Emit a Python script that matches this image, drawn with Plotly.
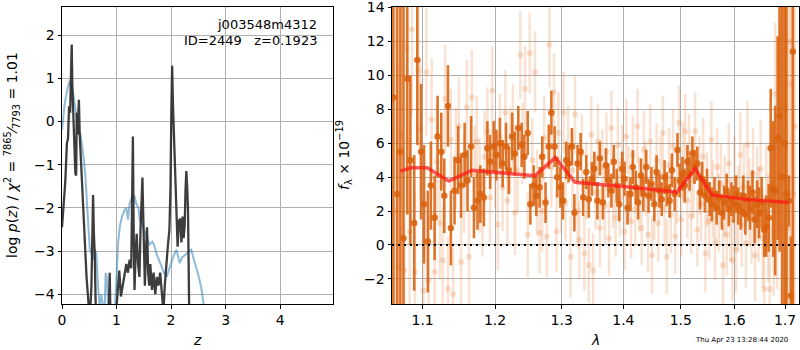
import plotly.graph_objects as go

# ---------------- left panel: log p(z) ----------------
z_chi = [0.00,0.03,0.06,0.09,0.11,0.13,0.15,0.165,0.178,0.19,0.20,0.215,0.23,0.245,0.26,0.27,0.285,0.295,0.31,0.325,
         0.34,0.355,0.37,0.39,0.42,0.45,0.48,0.51,0.54,0.57,0.585,0.60,0.62,0.645,0.68,0.74,0.80,0.86,0.875,0.89,
         0.94,1.0,1.05,1.08,1.11,1.15,1.18,1.21,1.24,1.27,1.285,1.30,1.315,1.33,1.35,1.37,1.395,1.42,1.44,1.46,
         1.475,1.49,1.52,1.54,1.56,1.58,1.60,1.62,1.65,1.68,1.71,1.74,1.77,1.80,1.83,1.86,1.885,1.91,1.94,1.97,
         1.99,2.005,2.02,2.035,2.05,2.065,2.08,2.10,2.12,2.145,2.17,2.19,2.21,2.23,2.25,2.265,2.28,2.295,2.31,2.32,
         2.33,2.40,2.8,3.5,4.2,4.97]
logp_chi = [-2.45,-2.0,-1.4,-0.5,-0.4,0.35,0.2,1.1,1.78,0.8,0.4,-0.3,-0.6,-1.2,-1.25,0.2,-0.3,0.3,0.5,-0.3,
            -0.7,-1.0,-1.6,-2.2,-2.9,-3.6,-4.1,-4.6,-3.8,-1.7,-2.6,-3.05,-4.4,-5.0,-5.5,-6.0,-5.0,-4.3,-3.5,-4.6,
            -4.8,-4.3,-3.45,-4.05,-3.8,-3.5,-3.3,-3.5,-3.2,-3.4,-2.2,-0.35,-2.6,-3.9,-3.06,-2.6,-3.3,-3.6,-2.5,-1.9,
            -1.3,-2.2,-3.8,-3.0,-2.45,-3.5,-3.8,-3.3,-3.9,-3.5,-4.0,-3.6,-3.8,-3.5,-4.0,-4.4,-3.8,-3.3,-2.9,-2.5,
            -1.5,0.2,1.29,0.4,-0.2,-1.0,-1.7,-2.4,-2.9,-2.3,-2.25,-2.8,-2.2,-2.7,-2.4,-1.6,-1.15,-1.5,-2.0,-3.0,
            -8.0,-12.0,-15.0,-18.0,-20.0,-22.0]

z_prior = [0.0,0.05,0.10,0.14,0.17,0.20,0.23,0.26,0.29,0.31,0.34,0.37,0.40,0.43,0.45,0.48,0.51,0.54,0.57,0.60,
           0.63,0.66,0.69,0.72,0.75,0.78,0.80,0.82,0.85,0.88,0.92,0.96,1.0,1.03,1.06,1.10,1.15,1.18,1.21,1.24,
           1.27,1.30,1.33,1.36,1.40,1.43,1.46,1.50,1.55,1.60,1.66,1.70,1.73,1.78,1.82,1.87,1.92,1.97,2.01,2.05,
           2.10,2.13,2.16,2.20,2.25,2.30,2.37,2.42,2.46,2.51,2.55,2.59,2.63,2.8,3.5,4.97]
logp_prior = [-0.2,0.42,0.75,0.94,0.8,0.68,0.45,0.13,-0.15,-0.26,-0.3,-0.55,-0.87,-1.3,-1.73,-2.4,-2.97,-3.05,-3.2,-2.97,
              -3.05,-3.8,-4.3,-4.0,-4.25,-4.5,-3.5,-3.6,-4.4,-4.6,-4.4,-4.6,-3.6,-2.8,-2.43,-2.2,-2.04,-2.0,-2.27,-1.9,
              -1.80,-1.75,-1.73,-1.9,-2.0,-2.3,-2.3,-2.5,-2.66,-2.85,-2.78,-2.9,-3.05,-3.2,-3.36,-3.5,-3.59,-3.4,-3.2,-3.1,
              -2.97,-3.1,-3.28,-3.15,-3.1,-3.05,-2.97,-3.2,-3.36,-3.6,-3.82,-4.2,-4.6,-6.0,-12.0,-20.0]

# ---------------- right panel: spectrum ----------------
lam_b = [1.064,1.068,1.072,1.076,1.079,1.083,1.086,1.090,1.094,1.097,
         1.101,1.105,1.108,1.112,1.116,1.119,1.123,1.127,1.130,1.134,
         1.138,1.141,1.145,1.149,1.152,1.156,1.160,1.163,1.167,1.171,
         1.174,1.178,1.182,1.185,1.189,1.193,1.196,1.200,1.204,1.207,
         1.211,1.215,1.218,1.222,1.226,1.229,1.233,1.237,1.240,1.244,
         1.248,1.251,1.255,1.259,1.262,1.266,1.270,1.273,1.277,1.281,
         1.284,1.288,1.292,1.295,1.299,1.303,1.306,1.310,1.314,1.317,
         1.321,1.325,1.328,1.332,1.336,1.339,1.343,1.347,1.350,1.354,
         1.358,1.361,1.365,1.369,1.372,1.376,1.380,1.383,1.387,1.391,
         1.394,1.398,1.402,1.405,1.409,1.413,1.416,1.420,1.424,1.427,
         1.431,1.435,1.438,1.442,1.446,1.449,1.453,1.457,1.460,1.464,
         1.468,1.471,1.475,1.479,1.482,1.486,1.490,1.493,1.497,1.501,
         1.504,1.508,1.512,1.515,1.519,1.523,1.526,1.530,1.534,1.537,
         1.541,1.545,1.548,1.552,1.556,1.559,1.563,1.567,1.570,1.574,
         1.578,1.581,1.585,1.589,1.592,1.596,1.600,1.603,1.607,1.611,
         1.614,1.618,1.622,1.625,1.629,1.633,1.636,1.640,1.644,1.647,
         1.651,1.655,1.658,1.662,1.666,1.669,1.673,1.677,1.680,1.684,
         1.688,1.691,1.695,1.699,1.702,1.706,1.710,1.713,1.717,1.720]
flux_b = [2.0,-1.3,6.5,-1.5,11.6,0.8,12.7,-1.6,10.3,6.8,
          -2.7,10.2,-2.1,7.4,-1.6,4.9,1.3,-0.9,8.6,-2.6,
          6.2,-2.9,5.1,7.0,-1.0,3.6,8.1,-0.7,8.7,4.2,
          6.1,3.5,1.9,5.2,6.7,2.8,9.1,4.8,1.2,6.4,
          3.4,7.8,2.6,5.6,6.9,1.9,4.4,11.2,6.0,9.2,
          0.6,11.3,5.0,10.2,3.1,0.7,2.0,6.3,0.5,11.8,
          4.6,9.0,0.8,6.6,3.0,7.8,2.5,5.9,-0.7,4.4,
          7.7,2.0,0.3,5.4,-0.5,3.8,-1.2,6.5,-1.5,3.1,
          6.1,1.0,4.6,2.3,5.5,0.4,6.9,3.2,1.6,5.9,
          2.7,4.9,0.8,6.4,3.6,1.4,5.3,2.1,7.0,3.0,
          1.0,5.6,3.9,0.6,6.1,-0.6,2.5,5.0,1.3,4.2,
          6.6,2.2,-0.7,4.7,1.8,5.8,0.5,3.5,7.2,1.5,
          4.9,6.7,2.6,5.4,1.7,3.8,6.7,0.9,4.1,2.4,
          5.2,-0.5,3.3,1.4,6.2,2.7,0.2,4.6,1.9,3.6,
          -1.2,2.9,0.6,4.8,1.5,-0.9,3.9,-0.3,2.2,5.3,
          1.2,3.4,0.1,5.9,2.5,1.6,4.2,-0.6,3.0,1.8,
          4.5,0.4,-2.6,2.8,1.0,-2.6,3.6,0.8,8.9,2.2,
          10.9,6.3,11.5,8.1,4.0,1.0,12.0,9.5,3.0,7.0]
err_b = [30,12,8,7,6,5.5,5,4.8,4.5,4.2,
         4.0,3.8,3.7,3.6,3.5,3.4,3.3,3.2,3.2,3.1,
         3.0,3.0,3.0,2.9,2.9,2.9,2.8,2.8,2.8,2.8,
         2.7,2.8,2.6,2.7,2.6,2.7,2.6,2.6,2.7,2.5,
         2.6,2.5,2.6,2.5,2.6,2.5,2.5,2.6,2.4,2.5,
         2.5,2.4,2.5,2.4,2.5,2.4,2.4,2.5,2.4,2.5,
         2.4,2.3,2.4,2.4,2.3,2.4,2.3,2.3,2.4,2.3,
         2.3,2.2,2.3,2.3,2.2,2.3,2.2,2.3,2.2,2.2,
         2.2,2.3,2.2,2.2,2.3,2.2,2.2,2.2,2.3,2.2,
         2.2,2.2,2.3,2.2,2.2,2.2,2.3,2.2,2.2,2.2,
         2.2,2.3,2.2,2.2,2.2,2.3,2.2,2.2,2.3,2.2,
         2.2,2.3,2.2,2.2,2.3,2.2,2.2,2.3,2.2,2.2,
         2.3,2.2,2.2,2.3,2.2,2.2,2.3,2.2,2.3,2.2,
         2.3,2.3,2.2,2.3,2.3,2.3,2.3,2.3,2.3,2.4,
         2.4,2.4,2.4,2.4,2.5,2.4,2.5,2.5,2.5,2.5,
         2.5,2.6,2.6,2.6,2.6,2.7,2.7,2.7,2.8,2.8,
         2.9,2.9,3.0,3.1,3.2,3.3,3.5,3.8,4.2,4.8,
         5.5,6.5,8,10,12,15,20,25,30,30]

lam_a = [1.062,1.067,1.071,1.075,1.080,1.084,1.089,1.093,1.098,1.102,
         1.107,1.111,1.116,1.120,1.125,1.129,1.134,1.138,1.143,1.148,
         1.152,1.157,1.161,1.166,1.170,1.175,1.179,1.184,1.189,1.193,
         1.198,1.202,1.207,1.211,1.216,1.220,1.225,1.229,1.234,1.239,
         1.243,1.248,1.252,1.257,1.261,1.266,1.270,1.275,1.280,1.284,
         1.289,1.293,1.298,1.302,1.307,1.311,1.316,1.320,1.325,1.330,
         1.334,1.339,1.343,1.348,1.352,1.357,1.361,1.366,1.371,1.375,
         1.380,1.384,1.389,1.393,1.398,1.402,1.407,1.412,1.416,1.421,
         1.425,1.430,1.434,1.439,1.443,1.448,1.453,1.457,1.462,1.466,
         1.471,1.475,1.480,1.484,1.489,1.494,1.498,1.503,1.507,1.512,
         1.516,1.521,1.525,1.530,1.535,1.539,1.544,1.548,1.553,1.557,
         1.562,1.566,1.571,1.576,1.580,1.585,1.589,1.594,1.598,1.603,
         1.607,1.612,1.617,1.621,1.626,1.630,1.635,1.639,1.644,1.648,
         1.653,1.658,1.662,1.667,1.671,1.676,1.680,1.685,1.689,1.694,
         1.699,1.703,1.708,1.712,1.716]
flux_a = [8.7,3.0,5.5,0.4,9.8,5.0,1.3,10.9,5.5,2.4,
          0.2,3.5,1.6,6.4,5.5,2.9,8.2,1.0,3.2,5.0,
          3.5,5.3,3.8,5.8,2.2,2.6,3.0,2.8,5.7,4.9,
          5.8,5.3,6.0,4.8,5.8,4.4,6.4,5.4,6.9,5.9,
          5.2,6.6,2.4,3.5,2.9,3.4,5.2,2.5,5.8,7.8,
          5.8,4.0,3.4,2.6,5.0,4.8,5.8,1.9,4.8,5.5,
          2.8,4.3,2.7,3.9,4.5,2.6,5.1,2.5,4.7,3.8,
          3.2,4.9,3.5,2.4,4.5,3.9,2.2,3.0,4.6,3.4,
          2.5,4.1,3.0,4.6,2.9,3.6,2.4,4.3,3.2,2.7,
          4.0,3.3,2.6,4.4,3.0,5.6,3.8,4.2,3.5,4.9,
          4.2,5.4,4.6,4.8,3.1,3.9,2.9,3.5,2.7,2.4,
          3.0,2.2,2.8,1.9,2.5,3.2,2.1,2.7,2.4,3.0,
          2.3,2.0,2.9,1.8,2.6,2.2,3.1,1.5,2.4,1.9,
          2.5,0.9,1.1,1.6,5.7,3.3,3.2,6.3,7.6,4.0,
          6.0,3.0,2.6,-3.0,11.4]
err_a = [30,30,30,20,8,5,4,5,4,3.5,
         3.0,2.6,2.5,2.4,2.3,2.2,2.4,2.2,2.0,2.0,
         1.9,1.9,1.8,1.8,1.8,1.7,1.7,1.7,1.6,1.6,
         1.5,1.5,1.5,1.4,1.4,1.4,1.4,1.3,1.3,1.3,
         1.3,1.3,1.2,1.2,1.2,1.2,1.2,1.2,1.3,1.3,
         1.2,1.2,1.2,1.1,1.1,1.1,1.1,1.1,1.1,1.1,
         1.1,1.0,1.1,1.0,1.0,1.1,1.0,1.0,1.0,1.0,
         1.0,1.0,1.0,1.0,1.0,1.0,1.0,1.0,1.0,1.0,
         1.0,1.0,1.0,1.0,1.0,1.0,1.0,1.0,1.0,1.0,
         1.0,1.0,1.0,1.0,1.0,1.0,1.0,1.0,1.0,1.0,
         1.0,1.0,1.0,1.0,1.0,1.0,1.0,1.0,1.0,1.0,
         1.0,1.0,1.0,1.0,1.0,1.0,1.0,1.0,1.1,1.1,
         1.1,1.1,1.2,1.2,1.2,1.3,1.3,1.4,1.4,1.5,
         1.5,1.6,1.8,2.0,3.5,4.0,5.0,6.0,8.0,20,
         30,30,1.5,3.5,30]

lam_model = [1.071,1.085,1.106,1.135,1.167,1.200,1.259,1.290,1.321,1.400,1.493,1.526,1.557,1.620,1.707]
flux_model = [4.35,4.55,4.55,3.77,4.40,4.30,4.08,5.15,3.70,3.45,3.12,4.50,2.95,2.70,2.50]

z_ticks = [0, 1, 2, 3, 4]
logp_ticks = [-4, -3, -2, -1, 0, 1, 2]
lam_ticks = [1.1, 1.2, 1.3, 1.4, 1.5, 1.6, 1.7]
flux_ticks = [-2, 0, 2, 4, 6, 8, 10, 12, 14]

FONT = "DejaVu Sans"
ORANGE_DARK = "rgba(217,98,14,0.88)"
ORANGE_LIGHT = "rgba(224,110,30,0.2)"

fig = go.Figure()

fig.add_trace(go.Scatter(x=z_prior, y=logp_prior, mode="lines",
                         line=dict(color="rgba(31,119,180,0.5)", width=2),
                         xaxis="x", yaxis="y", showlegend=False))
fig.add_trace(go.Scatter(x=z_chi, y=logp_chi, mode="lines",
                         line=dict(color="rgba(40,40,40,0.9)", width=2.3),
                         xaxis="x", yaxis="y", showlegend=False))

fig.add_trace(go.Scatter(x=lam_b, y=flux_b, mode="markers",
                         marker=dict(size=6, color=ORANGE_LIGHT, line=dict(width=0)),
                         error_y=dict(type="data", array=err_b, color=ORANGE_LIGHT, thickness=2.5, width=0),
                         xaxis="x2", yaxis="y2", showlegend=False))
fig.add_trace(go.Scatter(x=lam_a, y=flux_a, mode="markers",
                         marker=dict(size=6.5, color=ORANGE_DARK, line=dict(width=0)),
                         error_y=dict(type="data", array=err_a, color=ORANGE_DARK, thickness=2.6, width=0),
                         xaxis="x2", yaxis="y2", showlegend=False))
fig.add_trace(go.Scatter(x=lam_model, y=flux_model, mode="lines",
                         line=dict(color="rgba(255,20,20,0.7)", width=3.5),
                         xaxis="x2", yaxis="y2", showlegend=False))

axis_common = dict(showline=True, linecolor="black", linewidth=1, mirror=True,
                   ticks="outside", ticklen=3.5, tickcolor="black", tickwidth=1,
                   showgrid=True, gridcolor="#b0b0b0", gridwidth=1, zeroline=False,
                   ticklabeloverflow="allow",
                   tickfont=dict(family=FONT, size=14, color="black"), automargin=False)

fig.update_layout(
    width=800, height=350,
    margin=dict(l=0, r=0, t=0, b=0),
    paper_bgcolor="white", plot_bgcolor="white",
    xaxis=dict(domain=[62/800, 333/800], range=[0, 4.97], tickvals=z_ticks, anchor="y", **axis_common),
    yaxis=dict(domain=[46/350, 343/350], range=[-4.225, 2.65], tickvals=logp_ticks, anchor="x", **axis_common),
    xaxis2=dict(domain=[392/800, 799/800], type="log", range=[0.02543, 0.23775],
                tickvals=lam_ticks, ticktext=[str(v) for v in lam_ticks], anchor="y2", **axis_common),
    yaxis2=dict(domain=[46/350, 343/350], range=[-3.48, 14.03], tickvals=flux_ticks, anchor="x2", **axis_common),
    shapes=[dict(type="line", xref="x2 domain", x0=0, x1=1, yref="y2", y0=0, y1=0,
                 line=dict(color="black", width=2, dash="2px,4px"), layer="above")],
)

ann = [
    dict(text="j003548m4312", x=319/800, y=(350-25)/350, xanchor="right", yanchor="middle", size=13),
    dict(text="ID=2449   z=0.1923", x=319/800, y=(350-40)/350, xanchor="right", yanchor="middle", size=13),
    dict(text="<i>z</i>", x=197/800, y=(350-340)/350, xanchor="center", yanchor="middle", size=14),
    dict(text="<i>λ</i>", x=595/800, y=(350-340)/350, xanchor="center", yanchor="middle", size=14),
    dict(text="Thu Apr 23 13:28:44 2020", x=741/800, y=(350-340)/350, xanchor="center", yanchor="middle", size=7),
]
for a in ann:
    fig.add_annotation(text=a["text"], x=a["x"], y=a["y"], xref="paper", yref="paper",
                       xanchor=a["xanchor"], yanchor=a["yanchor"], showarrow=False,
                       font=dict(family=FONT, size=a["size"], color="black"))

fig.add_annotation(text="log <i>p</i>(<i>z</i>) / <i>χ</i><sup>2</sup> = <sup>7865</sup>⁄<sub>7793</sub> = 1.01",
                   x=12/800, y=(350-155)/350, xref="paper", yref="paper", textangle=-90,
                   xanchor="center", yanchor="middle", showarrow=False,
                   font=dict(family=FONT, size=14, color="black"))
fig.add_annotation(text="<i>f</i><sub>λ</sub> × 10<sup>−19</sup>",
                   x=344/800, y=(350-155)/350, xref="paper", yref="paper", textangle=-90,
                   xanchor="center", yanchor="middle", showarrow=False,
                   font=dict(family=FONT, size=14, color="black"))

fig.write_html("out.html", config={"displayModeBar": False},
               post_script="document.body.style.margin='0px';document.body.style.overflow='hidden';")
